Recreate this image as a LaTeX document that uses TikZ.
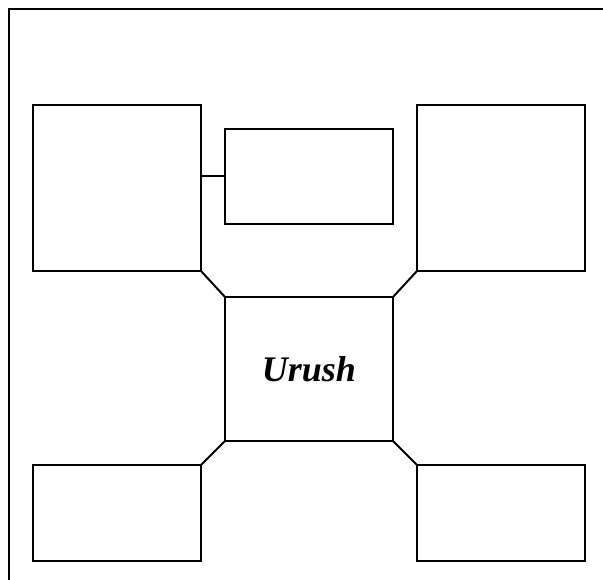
\documentclass[tikz,border=0pt]{standalone}
\usepackage{fontspec}
\setmainfont{Liberation Serif}
\begin{document}
\begin{tikzpicture}[x=1pt,y=-1pt,
  box/.style={draw,line width=2pt,rectangle,inner sep=0pt,outer sep=0pt,minimum width=168pt},
  link/.style={line width=2pt}]
\useasboundingbox (0,0) rectangle (603,580);
\draw[link] (9,580) -- (9,9) -- (603,9);
\node[box,minimum height=166pt] (tl) at (117,188) {};
\node[box,minimum height=95pt] (sm) at (309,176.5) {};
\node[box,minimum height=166pt] (tr) at (501,188) {};
\node[box,minimum height=144pt,font=\fontsize{36}{40}\selectfont\bfseries\itshape] (c) at (309,369) {Urush};
\node[box,minimum height=96pt] (bl) at (117,513) {};
\node[box,minimum height=96pt] (br) at (501,513) {};
\draw[link] (sm.west) -- (sm.west -| tl.east);
\draw[link] (tl.south east) -- (c.north west);
\draw[link] (tr.south west) -- (c.north east);
\draw[link] (bl.north east) -- (c.south west);
\draw[link] (br.north west) -- (c.south east);
\end{tikzpicture}
\end{document}
